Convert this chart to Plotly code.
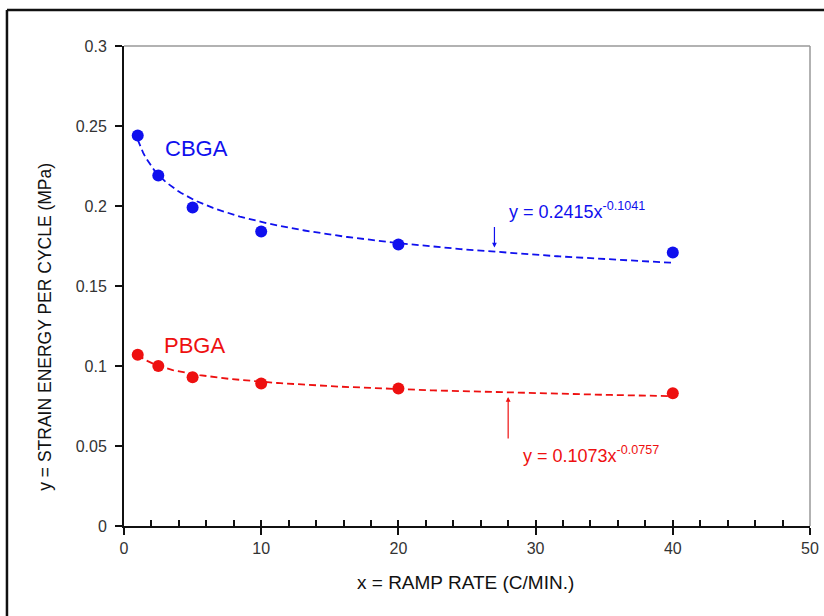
import numpy as np
import plotly.graph_objects as go

# Data
ramp_rate = [1, 2.5, 5, 10, 20, 40]
cbga_energy = [0.244, 0.219, 0.199, 0.184, 0.176, 0.171]
pbga_energy = [0.107, 0.100, 0.093, 0.089, 0.086, 0.083]

# Power-law trendline coefficients shown on the chart
cbga_coef, cbga_exp = 0.2415, -0.1041
pbga_coef, pbga_exp = 0.1073, -0.0757

x_ticks = [0, 10, 20, 30, 40, 50]
y_ticks = [0, 0.05, 0.1, 0.15, 0.2, 0.25, 0.3]
y_tick_labels = ["0", "0.05", "0.1", "0.15", "0.2", "0.25", "0.3"]

BLUE = "#1010ee"
RED = "#ee1010"
FONT = "Liberation Sans, Arial, sans-serif"

fit_x = np.linspace(min(ramp_rate), max(ramp_rate), 200)
cbga_fit = cbga_coef * fit_x ** cbga_exp
pbga_fit = pbga_coef * fit_x ** pbga_exp

fig = go.Figure()
fig.add_trace(go.Scatter(x=fit_x, y=cbga_fit, mode="lines",
                         line=dict(color=BLUE, width=1.8, dash="7px,4px"), showlegend=False))
fig.add_trace(go.Scatter(x=fit_x, y=pbga_fit, mode="lines",
                         line=dict(color=RED, width=1.8, dash="7px,4px"), showlegend=False))
fig.add_trace(go.Scatter(x=ramp_rate, y=cbga_energy, mode="markers",
                         marker=dict(color=BLUE, size=12), showlegend=False))
fig.add_trace(go.Scatter(x=ramp_rate, y=pbga_energy, mode="markers",
                         marker=dict(color=RED, size=12), showlegend=False))

fig.update_layout(
    width=824, height=616,
    margin=dict(l=124, r=14, t=46, b=90, autoexpand=False),
    paper_bgcolor="white", plot_bgcolor="white",
    font=dict(family=FONT, size=14, color="#222"),
    showlegend=False,
    xaxis=dict(range=[0, 50], tickvals=x_ticks, ticktext=[str(v) for v in x_ticks],
               ticks="outside", ticklen=7, tickwidth=1.5, tickcolor="#111",
               showline=True, linecolor="#111", linewidth=2, mirror=False,
               showgrid=False, zeroline=False, automargin=False,
               tickfont=dict(family=FONT, size=16, color="#333")),
    xaxis2=dict(range=[0, 50], overlaying="x", side="bottom", dtick=2, tick0=0,
                ticks="inside", ticklen=6, tickwidth=1.5, tickcolor="#111",
                showticklabels=False, showgrid=False, zeroline=False, showline=False),
    yaxis=dict(range=[0, 0.3], tickvals=y_ticks, ticktext=y_tick_labels,
               ticks="outside", ticklen=7, tickwidth=1.5, tickcolor="#111",
               showline=True, linecolor="#111", linewidth=2,
               showgrid=False, zeroline=False, automargin=False,
               ticklabelstandoff=5,
               tickfont=dict(family=FONT, size=16, color="#333")),
)

# Dummy trace so that xaxis2 is drawn
fig.add_trace(go.Scatter(x=[None], y=[None], xaxis="x2", showlegend=False))

# axis titles
fig.add_annotation(xref="paper", yref="paper", x=0.4985, y=-0.1167, yanchor="middle",
                   text="x = RAMP RATE (C/MIN.)", showarrow=False,
                   font=dict(family=FONT, size=19, color="#111"))
fig.add_annotation(xref="paper", yref="paper", x=-0.1152, y=0.415, xanchor="center",
                   text="y = STRAIN ENERGY PER CYCLE (MPa)", showarrow=False, textangle=-90,
                   font=dict(family=FONT, size=17.5, color="#111"))

# plot frame top / right (grey)
fig.add_shape(type="line", xref="paper", yref="paper", x0=0, x1=1, y0=1, y1=1,
              line=dict(color="#999", width=1.5))
fig.add_shape(type="line", xref="paper", yref="paper", x0=1, x1=1, y0=0, y1=1,
              line=dict(color="#999", width=1.5))
# outer figure border (top and left)
fig.add_shape(type="line", xref="paper", yref="paper", x0=-0.1706, x1=1.03, y0=1.075, y1=1.075,
              line=dict(color="#111", width=2.5))
fig.add_shape(type="line", xref="paper", yref="paper", x0=-0.1706, x1=-0.1706, y0=1.075, y1=-0.2,
              line=dict(color="#111", width=2.5))

fig.add_annotation(x=2.85, y=0.236, text="CBGA", showarrow=False, xanchor="left",
                   font=dict(family=FONT, size=22, color=BLUE))
fig.add_annotation(x=2.75, y=0.113, text="PBGA", showarrow=False, xanchor="left",
                   font=dict(family=FONT, size=22, color=RED))
fig.add_annotation(x=27.9, y=0.1975, text="y = 0.2415x<sup>-0.1041</sup>", showarrow=False,
                   xanchor="left", font=dict(family=FONT, size=18, color=BLUE))
fig.add_annotation(x=28.9, y=0.0444, text="y = 0.1073x<sup>-0.0757</sup>", showarrow=False,
                   xanchor="left", font=dict(family=FONT, size=18, color=RED))
# arrows
fig.add_annotation(x=27.0, y=0.174, ax=0, ay=-22, text="", showarrow=True,
                   arrowhead=2, arrowsize=0.8, arrowwidth=1.2, arrowcolor=BLUE)
fig.add_annotation(x=28.0, y=0.0806, ax=0, ay=43, text="", showarrow=True,
                   arrowhead=2, arrowsize=0.8, arrowwidth=1.2, arrowcolor=RED)

fig.write_html("out.html", config={"displayModeBar": False},
               post_script="document.body.style.margin='0';document.body.style.padding='0';")
